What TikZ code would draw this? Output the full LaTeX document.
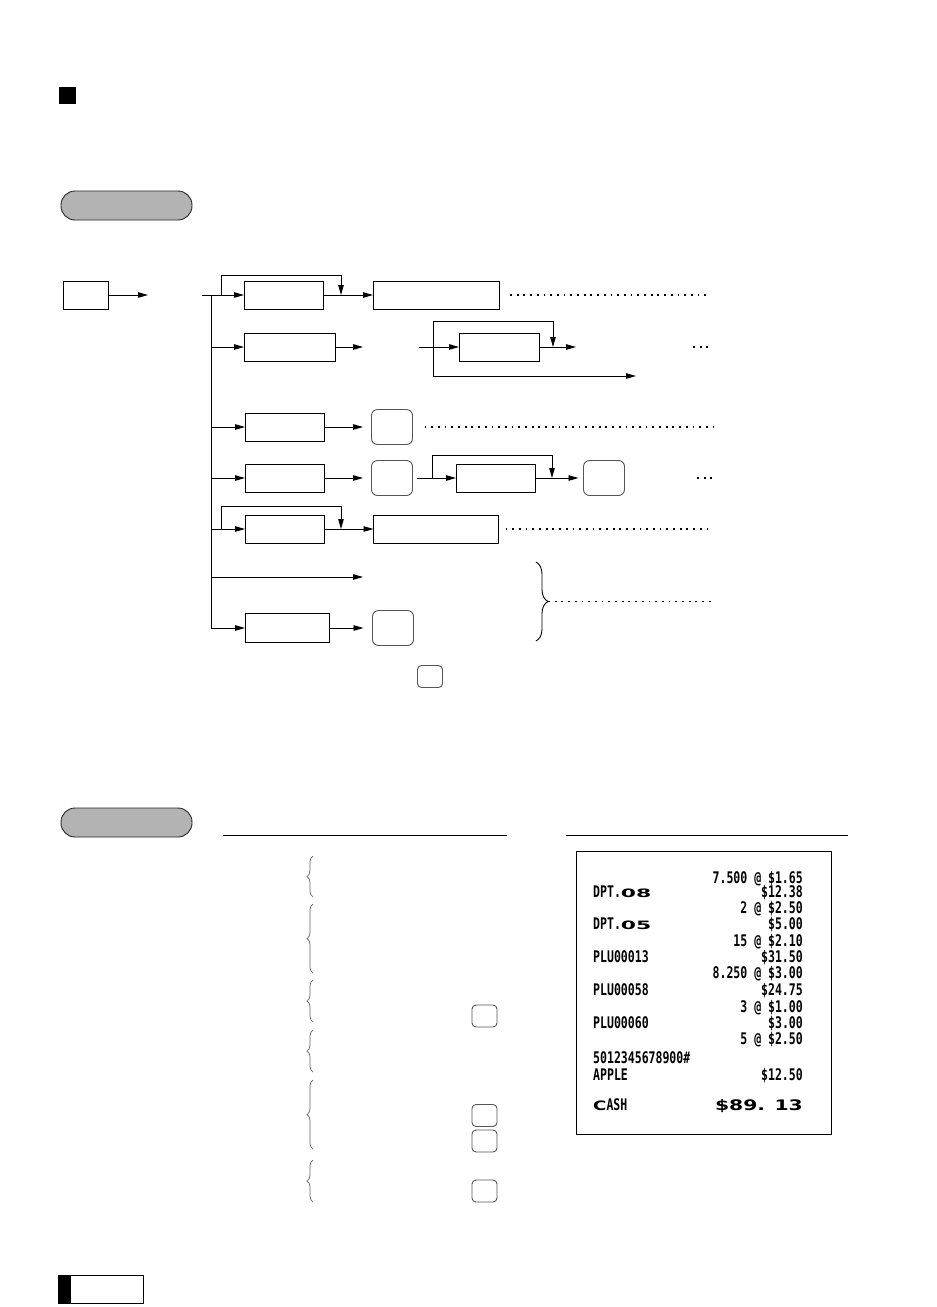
\documentclass[tikz,border=0pt]{standalone}
\usepackage{fontspec}
\usepackage{xcolor}
\usetikzlibrary{arrows.meta,decorations.pathreplacing}
\definecolor{keyGrey}{HTML}{555555}
\definecolor{pillGrey}{HTML}{B3B3B3}
\newfontfamily\slipfont[FakeStretch=0.72]{DejaVu Sans Mono}
\newfontfamily\slipwide[FakeStretch=1.9]{DejaVu Sans}
\newfontfamily\sliptotal[FakeStretch=1.4]{DejaVu Sans}
\newcommand{\bigdigits}[1]{{\slipwide\bfseries\fontsize{11.5pt}{11.5pt}\selectfont #1}}

\begin{document}
\begin{tikzpicture}[
  x=1pt, y=-1pt,
  box/.style={draw, line width=0.9pt, minimum height=28pt, inner sep=0pt, outer sep=0pt},
  key/.style={draw=keyGrey, rounded corners=6pt, line width=0.9pt, minimum width=41pt,
              minimum height=35pt, inner sep=0pt, outer sep=0pt},
  smallkey/.style={key, rounded corners=4pt, minimum width=25pt, minimum height=22pt},
  pill/.style={draw=black!85, fill=pillGrey, rounded corners=14pt, line width=0.9pt,
               minimum width=131pt, minimum height=29pt, inner sep=0pt},
  flow/.style={-{Triangle[length=10pt,width=5.5pt]}, line width=0.9pt},
  wire/.style={line width=0.9pt},
  leader/.style={line width=1.3pt, dash pattern=on 1.8pt off 4.9pt},
  bigbrace/.style={decorate, decoration={brace, amplitude=12pt}, line width=0.9pt},
  slimbrace/.style={decorate, decoration={brace, amplitude=6pt}, draw=black!60, line width=0.7pt},
  slip/.style={font=\slipfont\bfseries\fontsize{16pt}{16pt}\selectfont, inner sep=0pt},
]
\path[use as bounding box, fill=white] (0,0) rectangle (937,1307);

% Heading mark and section tags
\node[fill=black, minimum size=17pt, inner sep=0pt] (mark) at (67.5,95.5) {};
\node[pill] (tag1) at (126.5,205.5) {};
\node[pill] (tag2) at (126.5,822.5) {};

% Start
\node[box, minimum width=45pt] (start) at (85.5,295) {};
\coordinate (e0) at (148,295);
\draw[flow] (start) -- (e0);

% Trunk
\coordinate (stub) at (202,295);
\coordinate (trunk) at (211,295);
\coordinate (trunkend) at (211,628);
\draw[wire] (stub) -- (trunk) -- (trunkend);

% Row 1
\node[box, minimum width=79pt] (ent1) at (283.5,295) {};
\node[box, minimum width=126pt] (wide1) at (436,295) {};
\coordinate (j1) at (221,295);
\coordinate (m1) at (341,295);
\coordinate (d1) at (710,295);
\draw[flow] (stub) -- (ent1);
\draw[flow] (j1) -- ++(0,-20) -| (m1);
\draw[flow] (ent1) -- (wide1);
\draw[leader, shorten <=11pt] (wide1) -- (d1);

% Row 2
\node[box, minimum width=91pt] (ent2) at (289.5,347) {};
\node[box, minimum width=80pt] (mid2) at (499,347) {};
\coordinate (e2) at (363,347);
\coordinate (s2) at (419,347);
\coordinate (j2) at (433,347);
\coordinate (m2) at (553,347);
\coordinate (e2b) at (576,347);
\coordinate (e2c) at (636,376);
\coordinate (d2a) at (693,347);
\coordinate (d2b) at (713,347);
\draw[flow] (ent2) -- (e2);
\draw[flow] (s2) -- (mid2);
\draw[flow] (j2) -- ++(0,-26) -| (m2);
\draw[flow] (j2) |- (e2c);
\draw[flow] (mid2) -- (e2b);
\draw[leader] (d2a) -- (d2b);

% Row 3
\node[box, minimum width=79pt] (ent3) at (284.5,427) {};
\node[key] (key3) at (392,427) {};
\coordinate (d3) at (713,427);
\draw[flow, shorten >=8.5pt] (ent3) -- (key3);
\draw[leader, shorten <=12pt] (key3) -- (d3);

% Row 4
\node[box, minimum width=79pt] (ent4) at (284.5,478) {};
\node[key] (key4) at (392,478) {};
\node[box, minimum width=79pt] (mid4) at (495.5,478) {};
\node[key] (key4b) at (604,478) {};
\coordinate (j4) at (432,478);
\coordinate (m4) at (552,478);
\coordinate (d4a) at (697,478);
\coordinate (d4b) at (712,478);
\draw[flow, shorten >=8.5pt] (ent4) -- (key4);
\draw[flow, shorten <=4pt] (key4) -- (mid4);
\draw[flow] (j4) -- ++(0,-23) -| (m4);
\draw[flow, shorten >=5pt] (mid4) -- (key4b);
\draw[leader] (d4a) -- (d4b);

% Row 5
\node[box, minimum width=79pt] (ent5) at (284.5,529) {};
\node[box, minimum width=125pt] (wide5) at (436,529) {};
\coordinate (j5) at (221,529);
\coordinate (m5) at (341,529);
\coordinate (d5) at (712,529);
\draw[flow] (ent5) -- (wide5);
\draw[flow] (j5) -- ++(0,-23) -| (m5);
\draw[leader, shorten <=7pt] (wide5) -- (d5);

% Row 6
\coordinate (e6) at (363,577);
\draw[flow] (trunk |- e6) -- (e6);

% Row 7
\node[box, minimum width=84pt, minimum height=29pt] (ent7) at (287,628) {};
\node[key] (key7) at (393,628) {};
\draw[flow, shorten >=9pt] (ent7) -- (key7);

\foreach \n in {ent2,ent3,ent4,ent5,ent7}
  \draw[flow] (trunk |- \n) -- (\n);

% Brace for rows 6 and 7
\draw[bigbrace] (536,562) -- (536,641);
\coordinate (tip) at (548,601.5);
\coordinate (d6) at (713,601.5);
\draw[leader] (tip) -- (d6);

\node[smallkey] (key8) at (430,676.5) {};

% Example section
\draw[wire] (223,835) -- (507,835);
\draw[wire] (566,835) -- (848,835);
\foreach \ya/\yb in {856/897,904/973,980/1022,1030/1072,1080/1149,1160/1202}
  \draw[slimbrace] (313,\yb) -- (313,\ya);
\foreach \yy [count=\i] in {1016,1115.5,1141,1191}
  \node[smallkey] (opkey\i) at (484.5,\yy) {};

% Receipt
\node[draw, line width=0.9pt, minimum width=255pt, minimum height=283pt, inner sep=0pt] (slip) at (703.5,992.5) {};
\foreach \yy/\txt [count=\i] in {883/{7.500 @ \$1.65}, 897/{\$12.38}, 913/{2 @ \$2.50},
    929/{\$5.00}, 946/{15 @ \$2.10}, 962/{\$31.50}, 978/{8.250 @ \$3.00}, 995/{\$24.75},
    1012/{3 @ \$1.00}, 1028/{\$3.00}, 1044/{5 @ \$2.50}, 1080/{\$12.50}}
  \node[slip, anchor=base east] (amt\i) at (803,\yy) {\txt};
\node[slip, anchor=base west] (dpt8) at (593,897) {DPT.\bigdigits{08}};
\node[slip, anchor=base west] (dpt5) at (593,929) {DPT.\bigdigits{05}};
\node[slip, anchor=base west] (plu13) at (593,962) {PLU00013};
\node[slip, anchor=base west] (plu58) at (593,995) {PLU00058};
\node[slip, anchor=base west] (plu60) at (593,1028) {PLU00060};
\node[slip, anchor=base west] (ean) at (593,1063) {5012345678900\#};
\node[slip, anchor=base west] (apple) at (593,1080) {APPLE};
\node[slip, anchor=base west] (cash) at (593,1110) {{\sliptotal\bfseries\fontsize{13pt}{13pt}\selectfont C}ASH};
\node[slip, anchor=base east] (total) at (803,1110) {\sliptotal\bfseries\fontsize{14.5pt}{14.5pt}\selectfont \$89. 13};

% Page tab
\node[draw, line width=1pt, minimum width=85pt, minimum height=28pt, inner sep=0pt] (tab) at (100.5,1289) {};
\node[fill=black, minimum width=13pt, minimum height=28pt, inner sep=0pt, anchor=west] (tabfill) at (tab.west) {};

\end{tikzpicture}
\end{document}
